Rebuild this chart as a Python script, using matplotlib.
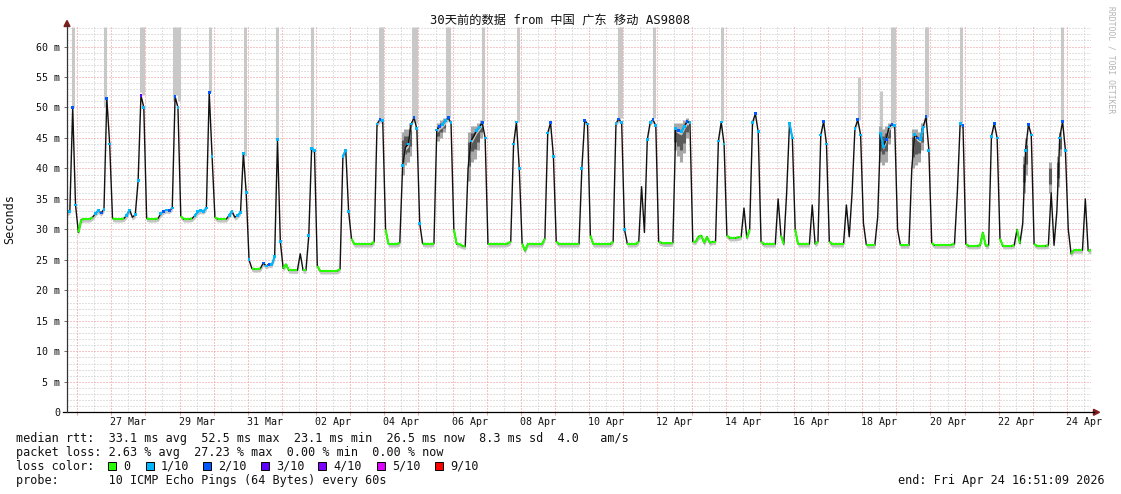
import numpy as np
import pandas as pd
import matplotlib
matplotlib.use("Agg")
import matplotlib.pyplot as plt
import matplotlib.dates as mdates
from matplotlib.collections import LineCollection
from matplotlib.patches import Polygon, Rectangle
from matplotlib.lines import Line2D

plt.rcParams['font.family'] = ['DejaVu Sans Mono', 'Noto Sans CJK SC']

# ---- data: median rtt (ms), one sample every 2 h from the start time ----
start = "2026-03-25 16:51:09"
end = "2026-04-24 16:51:09"
rtt_median = [
    32.7, 33.0, 50.0, 34.0,                                                  # 25 Mar
    29.5, 31.6, 31.7, 31.7, 31.7, 32.0, 32.6, 33.1, 32.7, 33.3, 51.5, 44.0,  # 26 Mar
    31.8, 31.7, 31.7, 31.7, 31.8, 32.3, 33.2, 32.0, 32.4, 38.0, 52.0, 50.0,  # 27 Mar
    31.8, 31.7, 31.7, 31.7, 31.8, 32.6, 33.0, 33.2, 33.1, 33.5, 51.8, 50.0,  # 28 Mar
    32.2, 31.7, 31.7, 31.7, 31.8, 32.3, 32.9, 33.1, 33.0, 33.5, 52.5, 42.0,  # 29 Mar
    32.0, 31.7, 31.7, 31.7, 31.7, 32.3, 33.0, 32.0, 32.3, 32.8, 42.5, 36.0,  # 30 Mar
    25.0, 23.6, 23.5, 23.5, 23.6, 24.5, 24.0, 24.3, 24.2, 25.5, 44.7, 28.0,  # 31 Mar
    23.6, 24.3, 23.3, 23.3, 23.3, 23.3, 26.0, 23.3, 23.3, 29.0, 43.3, 43.0,  # 01 Apr
    24.0, 23.2, 23.2, 23.2, 23.2, 23.2, 23.2, 23.2, 23.5, 42.0, 43.0, 33.0,  # 02 Apr
    28.5, 27.6, 27.6, 27.6, 27.6, 27.6, 27.6, 27.6, 28.0, 47.3, 48.0, 47.8,  # 03 Apr
    30.0, 27.6, 27.6, 27.6, 27.6, 27.8, 40.5, 43.5, 44.0, 47.3, 48.3, 46.5,  # 04 Apr
    31.0, 27.7, 27.6, 27.6, 27.6, 27.7, 46.3, 46.9, 47.2, 47.8, 48.3, 47.5,  # 05 Apr
    30.0, 27.6, 27.6, 27.3, 27.2, 40.0, 44.5, 45.3, 46.2, 46.8, 47.5, 45.0,  # 06 Apr
    27.6, 27.6, 27.6, 27.6, 27.6, 27.6, 27.6, 27.7, 28.0, 44.0, 47.6, 40.0,  # 07 Apr
    27.7, 26.5, 27.6, 27.6, 27.6, 27.6, 27.6, 27.6, 28.5, 45.8, 47.5, 42.0,  # 08 Apr
    28.0, 27.6, 27.6, 27.6, 27.6, 27.6, 27.6, 27.6, 27.6, 40.0, 47.9, 47.3,  # 09 Apr
    29.0, 27.6, 27.6, 27.6, 27.6, 27.6, 27.6, 27.6, 28.0, 47.4, 48.1, 47.5,  # 10 Apr
    30.0, 27.6, 27.6, 27.6, 27.6, 28.0, 37.0, 29.5, 44.7, 47.5, 48.0, 47.0,  # 11 Apr
    28.0, 27.8, 27.7, 27.7, 27.7, 27.8, 46.5, 46.2, 46.0, 46.9, 47.7, 47.5,  # 12 Apr
    28.0, 28.0, 28.8, 29.0, 27.8, 28.8, 27.8, 28.0, 28.0, 44.5, 47.6, 44.0,  # 13 Apr
    29.0, 28.6, 28.6, 28.6, 28.7, 28.8, 33.5, 28.6, 30.0, 47.5, 49.0, 46.0,  # 14 Apr
    28.0, 27.6, 27.6, 27.6, 27.6, 27.6, 35.0, 29.0, 27.6, 36.0, 47.4, 45.0,  # 15 Apr
    30.0, 27.6, 27.6, 27.6, 27.6, 27.6, 34.0, 27.6, 28.0, 45.5, 47.7, 44.0,  # 16 Apr
    28.0, 27.6, 27.6, 27.6, 27.6, 27.6, 34.0, 28.8, 36.0, 46.5, 48.0, 45.5,  # 17 Apr
    31.0, 27.5, 27.4, 27.4, 27.4, 32.0, 45.8, 43.6, 44.8, 46.8, 47.2, 47.0,  # 18 Apr
    30.0, 27.4, 27.4, 27.4, 27.4, 40.0, 45.6, 45.0, 44.7, 46.8, 48.5, 43.0,  # 19 Apr
    27.8, 27.4, 27.4, 27.4, 27.4, 27.4, 27.4, 27.5, 27.6, 36.0, 47.4, 47.0,  # 20 Apr
    27.6, 27.3, 27.3, 27.3, 27.3, 27.4, 29.5, 27.3, 27.4, 45.3, 47.4, 45.0,  # 21 Apr
    28.5, 27.3, 27.3, 27.3, 27.3, 27.4, 30.0, 27.7, 31.0, 43.0, 47.2, 45.5,  # 22 Apr
    27.6, 27.3, 27.3, 27.3, 27.3, 27.4, 36.0, 27.4, 33.0, 45.0, 47.7, 43.0,  # 23 Apr
    30.0, 26.0, 26.6, 26.6, 26.6, 26.6, 35.0, 26.5, 26.6,                    # 24 Apr
]
# lost pings out of 10 for the same samples
loss = [
    1, 1, 2, 1,
    0, 0, 0, 0, 0, 0, 1, 1, 2, 1, 2, 1,
    0, 0, 0, 0, 0, 1, 1, 0, 1, 1, 3, 1,
    0, 0, 0, 0, 0, 1, 2, 1, 2, 1, 2, 1,
    0, 0, 0, 0, 0, 1, 1, 1, 1, 1, 2, 1,
    0, 0, 0, 0, 0, 1, 1, 0, 1, 1, 1, 1,
    1, 0, 0, 0, 0, 2, 1, 2, 1, 1, 1, 1,
    0, 0, 0, 0, 0, 0, 0, 0, 0, 1, 1, 1,
    0, 0, 0, 0, 0, 0, 0, 0, 0, 1, 1, 1,
    0, 0, 0, 0, 0, 0, 0, 0, 0, 1, 2, 1,
    0, 0, 0, 0, 0, 0, 1, 0, 1, 1, 2, 1,
    1, 0, 0, 0, 0, 0, 1, 2, 1, 1, 2, 1,
    0, 0, 0, 0, 0, 0, 1, 0, 1, 1, 2, 1,
    0, 0, 0, 0, 0, 0, 0, 0, 0, 1, 1, 1,
    0, 0, 0, 0, 0, 0, 0, 0, 0, 1, 2, 1,
    0, 0, 0, 0, 0, 0, 0, 0, 0, 1, 2, 1,
    0, 0, 0, 0, 0, 0, 0, 0, 0, 1, 2, 1,
    1, 0, 0, 0, 0, 0, 0, 0, 1, 1, 2, 1,
    0, 0, 0, 0, 0, 0, 1, 2, 1, 1, 2, 1,
    0, 0, 0, 0, 0, 0, 0, 0, 0, 1, 1, 1,
    0, 0, 0, 0, 0, 0, 0, 0, 0, 1, 2, 1,
    0, 0, 0, 0, 0, 0, 0, 0, 0, 0, 1, 1,
    0, 0, 0, 0, 0, 0, 0, 0, 0, 1, 2, 1,
    0, 0, 0, 0, 0, 0, 0, 0, 0, 1, 2, 1,
    0, 0, 0, 0, 0, 0, 1, 1, 2, 1, 2, 1,
    0, 0, 0, 0, 0, 0, 1, 2, 1, 1, 2, 1,
    0, 0, 0, 0, 0, 0, 0, 0, 0, 0, 1, 2,
    0, 0, 0, 0, 0, 0, 0, 0, 0, 1, 2, 1,
    0, 0, 0, 0, 0, 0, 0, 0, 0, 1, 2, 1,
    0, 0, 0, 0, 0, 0, 0, 0, 0, 1, 2, 1,
    0, 0, 0, 0, 0, 0, 0, 0, 0,
]

# smoke reaching far up (slowest pings)
spike_times = ["2026-03-25 20:46", "2026-03-26 19:50", "2026-03-27 20:50", "2026-03-27 22:10",
               "2026-03-28 19:50", "2026-03-28 21:44", "2026-03-28 23:20", "2026-03-29 21:35",
               "2026-03-30 21:44", "2026-03-31 20:15", "2026-04-01 21:14", "2026-04-03 20:40",
               "2026-04-03 22:00", "2026-04-04 20:15", "2026-04-04 22:00", "2026-04-05 19:45",
               "2026-04-05 21:30", "2026-04-06 21:27", "2026-04-07 21:56", "2026-04-10 20:50",
               "2026-04-10 22:20", "2026-04-11 21:31", "2026-04-13 21:10", "2026-04-17 21:31",
               "2026-04-18 12:56", "2026-04-18 21:00", "2026-04-18 22:20", "2026-04-19 20:30",
               "2026-04-19 21:40", "2026-04-20 21:14", "2026-04-23 20:44"]
spike_lo = [50, 50, 52.5, 52, 51, 52, 51, 52.5, 42, 44.7, 43.4, 48, 48, 48, 47.5, 48,
            48.3, 47.7, 47.6, 48, 48.2, 48.3, 47.7, 48, 45, 47.4, 47.4, 48, 48.5, 47.5, 47.7]
spike_hi = [63.2, 63.2, 63.2, 63.2, 63.2, 63.2, 63.2, 63.2, 63.2, 63.2, 63.2, 63.2, 63.2,
            63.2, 63.2, 63.2, 63.2, 63.2, 63.2, 63.2, 63.2, 63.2, 63.2, 55, 52.7, 63.2, 63.2,
            63.2, 63.2, 63.2, 63.2]

# wider spread of ping times during the evening humps
smoke_times = ["2026-04-04 12:50", "2026-04-04 14:40", "2026-04-04 16:20", "2026-04-04 17:50",
               "2026-04-05 13:25", "2026-04-05 15:30", "2026-04-05 17:40",
               "2026-04-06 11:15", "2026-04-06 13:20", "2026-04-06 15:28", "2026-04-06 17:35",
               "2026-04-06 19:41",
               "2026-04-12 12:06", "2026-04-12 14:12", "2026-04-12 16:19", "2026-04-12 18:25",
               "2026-04-12 20:32",
               "2026-04-18 12:14", "2026-04-18 14:21", "2026-04-18 16:27", "2026-04-18 18:34",
               "2026-04-19 11:28", "2026-04-19 13:34", "2026-04-19 15:41", "2026-04-19 17:47",
               "2026-04-22 17:31", "2026-04-22 18:55",
               "2026-04-23 12:10", "2026-04-23 17:26", "2026-04-23 19:12"]
smoke_lo = [39, 40.5, 41, 42, 44.5, 45, 46, 38, 41, 41.5, 43, 45, 43, 42, 41, 42.5, 45,
            41, 40.5, 41, 44, 40, 40.5, 41, 43, 36, 39, 36, 37, 42]
smoke_hi = [46, 46.5, 46.5, 47.5, 47.5, 48, 48.3, 46, 47, 47, 47.5, 48, 47.5, 47.5, 47.5,
            48, 48.3, 47, 46.5, 47, 47.5, 46.5, 46.5, 46, 47.5, 42, 45, 41, 42, 46]

loss_levels = [0, 1, 2, 3, 4, 5, 9]
loss_labels = ["0", "1/10", "2/10", "3/10", "4/10", "5/10", "9/10"]
loss_colors = ["#26ff00", "#00b8ff", "#0059ff", "#5e00ff", "#7e00ff", "#dd00ff", "#ff0000"]

stats_lines = [
    "median rtt:  33.1 ms avg  52.5 ms max  23.1 ms min  26.5 ms now  8.3 ms sd  4.0   am/s",
    "packet loss: 2.63 % avg  27.23 % max  0.00 % min  0.00 % now",
]
probe_text = "probe:       10 ICMP Echo Pings (64 Bytes) every 60s"
end_text = "end: Fri Apr 24 16:51:09 2026"
title = "30天前的数据 from 中国 广东 移动 AS9808"

# ---- figure ----
W, H = 1121, 494
fig = plt.figure(figsize=(W / 100, H / 100), dpi=100)
fig.patch.set_facecolor("white")
X0, X1, Y0, Y1 = 67, 1091, 412.3, 27
ax = fig.add_axes([X0 / W, 1 - Y0 / H, (X1 - X0) / W, (Y0 - Y1) / H])
for s in ax.spines.values():
    s.set_visible(False)


def fx(x):
    return x / W


def fy(y):
    return 1 - y / H


times = pd.date_range(start, periods=len(rtt_median), freq="2h")
t = mdates.date2num(times)
med = np.array(rtt_median)
lo_arr = np.array(loss)
color_of = dict(zip(loss_levels, loss_colors))

ax.set_xlim(mdates.date2num(pd.Timestamp(start)), mdates.date2num(pd.Timestamp(end)))
ax.set_ylim(0, 63.2)

# dotted grid
dot = (0, (1, 2))
minor_c, major_c = "#c4c4c4", "#f08c8c"
for v in range(1, 64):
    c, z = (minor_c, 0) if v % 5 else (major_c, 0.5)
    ax.axhline(v, color=c, lw=0.72, ls=dot, zorder=z, snap=True)
for d in pd.date_range("2026-03-26", "2026-04-24", freq="D"):
    ax.axvline(mdates.date2num(d + pd.Timedelta(hours=12)), color=minor_c, lw=0.72, ls=dot,
               zorder=0, snap=True)
    ax.axvline(mdates.date2num(d), color=major_c, lw=0.72, ls=dot, zorder=0.5, snap=True)

# smoke
ax.vlines(mdates.date2num(pd.to_datetime(spike_times)), spike_lo, spike_hi,
          color="#c8c8c8", lw=2.2, zorder=1)
st = mdates.date2num(pd.to_datetime(smoke_times))
slo, shi = np.array(smoke_lo), np.array(smoke_hi)
ax.vlines(st, slo, shi, color="#a8a8a8", lw=2.2, zorder=1.2)
ax.vlines(st, slo + (shi - slo) * 0.3, shi - (shi - slo) * 0.2, color="#5a5a5a", lw=2.2, zorder=1.3)
ax.fill_between(t, med - 0.5, med, color="#c4c4c4", lw=0, zorder=1.4)

# median line: black where it jumps / changes loss, loss colour otherwise
ax.plot(t, med, color="#111111", lw=1.0, zorder=2)
segs, cols = [], []
for i in range(len(med) - 1):
    if lo_arr[i] == lo_arr[i + 1] and abs(med[i + 1] - med[i]) < 2.5:
        segs.append([(t[i], med[i]), (t[i + 1], med[i + 1])])
        cols.append(color_of[lo_arr[i]])
ax.add_collection(LineCollection(segs, colors=cols, linewidths=1.5, capstyle="butt", zorder=3))
m = lo_arr > 0
ax.scatter(t[m], med[m], s=4, marker="s", c=[color_of[v] for v in lo_arr[m]], linewidths=0, zorder=4)

# ticks
yt = list(range(0, 61, 5))
ax.set_yticks(yt)
ax.set_yticklabels(["0"] + [f"{v} m" for v in yt[1:]])
lab_days = pd.date_range("2026-03-27 12:00", "2026-04-24 12:00", freq="2D")
ax.set_xticks(mdates.date2num(lab_days))
ax.set_xticklabels([d.strftime("%d %b") for d in lab_days])
ax.set_xticks(mdates.date2num(pd.date_range("2026-03-26", "2026-04-24", freq="D")), minor=True)
ax.tick_params(axis="x", which="major", length=0, pad=3.4, labelsize=7.2, labelcolor="#111111")
ax.tick_params(axis="x", which="minor", length=2, width=0.6, color="#f09090")
ax.tick_params(axis="y", which="major", length=2, width=0.6, color="#555555", pad=3,
               labelsize=7.2, labelcolor="#111111")

# axes lines and arrows
fig.add_artist(Line2D([fx(63), fx(1094)], [fy(412.3), fy(412.3)], color="black", lw=0.9))
fig.add_artist(Line2D([fx(67), fx(67)], [fy(412.3), fy(25)], color="#333333", lw=0.9))
arrow_col = "#7f1d1d"
fig.add_artist(Polygon([[fx(67), fy(20.5)], [fx(64), fy(26.5)], [fx(70), fy(26.5)]],
                       closed=True, color=arrow_col, transform=fig.transFigure))
fig.add_artist(Polygon([[fx(1099.5), fy(412.3)], [fx(1093.5), fy(409.3)], [fx(1093.5), fy(415.3)]],
                       closed=True, color=arrow_col, transform=fig.transFigure))

# texts
fs = 8.5
fig.text(fx(560), fy(21), title, ha="center", va="center", fontsize=8.8, color="#111111")
fig.text(fx(10), fy(219), "Seconds", rotation=90, ha="center", va="center", fontsize=fs, color="#111111")
fig.text(fx(1111), fy(60), "RRDTOOL / TOBI OETIKER", rotation=270, ha="center", va="center",
         fontsize=5.8, color="#b4b4b4")
fig.text(fx(16), fy(438), stats_lines[0], ha="left", va="center", fontsize=fs, color="#111111")
fig.text(fx(16), fy(452), stats_lines[1], ha="left", va="center", fontsize=fs, color="#111111")
fig.text(fx(16), fy(466), "loss color:", ha="left", va="center", fontsize=fs, color="#111111")
box_x = [108, 146, 203, 261, 318, 377, 435]
for bx, lab, c in zip(box_x, loss_labels, loss_colors):
    fig.add_artist(Rectangle((fx(bx), fy(470)), 8 / W, 8 / H, facecolor=c, edgecolor="black",
                             lw=0.7, transform=fig.transFigure))
    fig.text(fx(bx + 15), fy(466), lab, ha="left", va="center", fontsize=fs, color="#111111")
fig.text(fx(16), fy(480), probe_text, ha="left", va="center", fontsize=fs, color="#111111")
fig.text(fx(1105), fy(480), end_text, ha="right", va="center", fontsize=fs, color="#111111")

fig.savefig("out.png", dpi=100, facecolor="white")
